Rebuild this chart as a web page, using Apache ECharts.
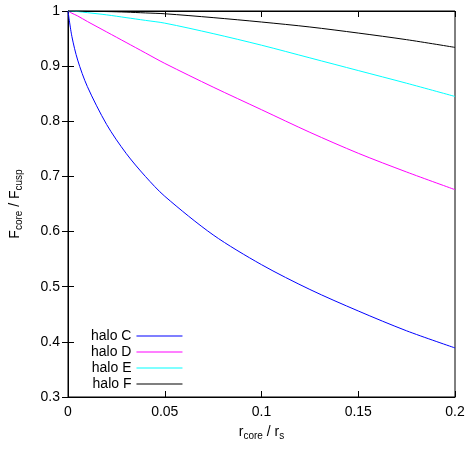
<!DOCTYPE html>
<html>
<head>
<meta charset="utf-8">
<script src="https://cdn.jsdelivr.net/npm/echarts@6/dist/echarts.min.js"></script>
<style>html,body{margin:0;padding:0;background:#fff}#chart{width:470px;height:453px}</style>
</head>
<body>
<div id="chart"></div>
<script>
    // r_core / r_s sample points
    var xs = [0, 0.002, 0.005, 0.01, 0.02, 0.03, 0.04, 0.05, 0.075, 0.1, 0.125, 0.15, 0.175, 0.2];
    var haloC = [1, 0.954, 0.911, 0.863, 0.794, 0.742, 0.70, 0.664, 0.594, 0.54, 0.495, 0.456, 0.42, 0.389];
    var haloD = [1, 0.996, 0.991, 0.981, 0.962, 0.943, 0.924, 0.905, 0.862, 0.821, 0.78, 0.742, 0.708, 0.676];
    var haloE = [1, 0.9995, 0.999, 0.997, 0.993, 0.988, 0.983, 0.978, 0.959, 0.938, 0.915, 0.892, 0.869, 0.845];
    var haloF = [1, 1, 1, 0.9995, 0.999, 0.998, 0.9965, 0.995, 0.988, 0.98, 0.971, 0.96, 0.948, 0.934];
    var names = ['halo C', 'halo D', 'halo E', 'halo F'];
    var colors = ['#0000ff', '#ff00ff', '#00ffff', '#000000'];

    function pairs(ys) {
        return xs.map(function (x, i) { return [x, ys[i]]; });
    }
    var allData = [haloC, haloD, haloE, haloF];

    var font = 'Liberation Sans, Arial, sans-serif';
    var tick = { inside: true, length: 6, lineStyle: { color: '#000' } };
    var myChart = echarts.init(document.getElementById('chart'));
    var option = {
        animation: false,
        textStyle: { fontFamily: font },
        grid: { left: 67, right: 15, top: 11, bottom: 56, show: true, borderColor: '#000', borderWidth: 1 },
        legend: {
            orient: 'vertical', left: 86, top: 324, align: 'right',
            itemWidth: 46, itemHeight: 1, itemGap: 2,
            icon: 'rect',
            textStyle: { fontSize: 14, color: '#000', fontFamily: font, padding: [0, 0, 0, 0] },
            data: names
        },
        xAxis: [{
            type: 'value', min: 0, max: 0.2, interval: 0.05,
            name: '{n|r}{s|core}{n| / r}{s|s}', nameLocation: 'middle', nameGap: 26,
            nameTextStyle: { rich: { n: { fontSize: 14, color: '#000' }, s: { fontSize: 10, color: '#000', padding: [8, 0, 0, 0] } } },
            axisLine: { lineStyle: { color: '#000' } },
            axisTick: tick,
            axisLabel: { color: '#000', fontSize: 14, formatter: function (v) { return String(+v.toFixed(2)); } },
            splitLine: { show: false }
        }, {
            type: 'value', min: 0, max: 0.2, interval: 0.05, position: 'top',
            axisLine: { lineStyle: { color: '#000' } }, axisTick: tick,
            axisLabel: { show: false }, splitLine: { show: false }
        }],
        yAxis: [{
            type: 'value', min: 0.3, max: 1, interval: 0.1,
            name: '{n|F}{s|core}{n| / F}{s|cusp}', nameLocation: 'middle', nameGap: 44, nameRotate: 90,
            nameTextStyle: { rich: { n: { fontSize: 14, color: '#000' }, s: { fontSize: 10, color: '#000', padding: [8, 0, 0, 0] } } },
            axisLine: { lineStyle: { color: '#000' } },
            axisTick: tick,
            axisLabel: { color: '#000', fontSize: 14, formatter: function (v) { return String(+v.toFixed(1)); } },
            splitLine: { show: false }
        }, {
            type: 'value', min: 0.3, max: 1, interval: 0.1, position: 'right',
            axisLine: { lineStyle: { color: '#000' } }, axisTick: tick,
            axisLabel: { show: false }, splitLine: { show: false }
        }],
        series: names.map(function (n, i) {
            return {
                name: n, type: 'line', smooth: 0.3, showSymbol: false,
                data: pairs(allData[i]),
                itemStyle: { color: colors[i] },
                lineStyle: { color: colors[i], width: 1 }
            };
        })
    };
    myChart.setOption(option);
</script>
</body>
</html>
